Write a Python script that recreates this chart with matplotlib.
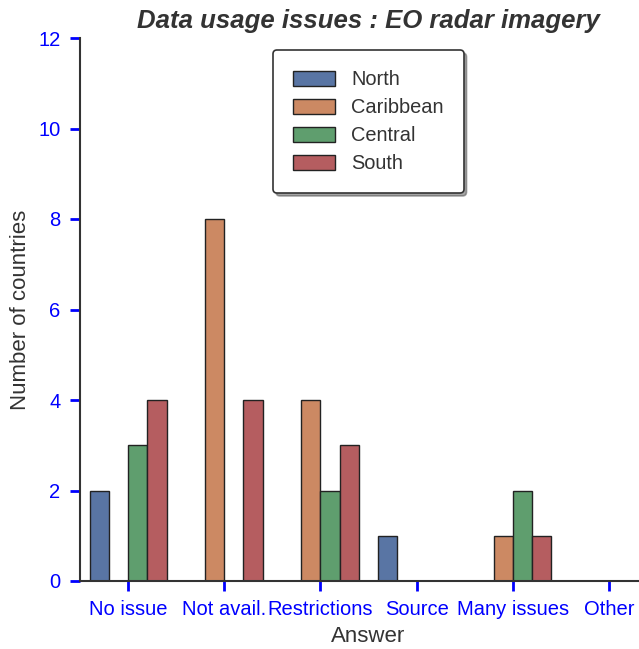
import numpy as np
import matplotlib
matplotlib.use("Agg")
import matplotlib.pyplot as plt
import seaborn as sns

# Answer categories and counts per region
categories = ["No issue", "Not avail.", "Restrictions", "Source", "Many issues", "Other"]
regions = ["North", "Caribbean", "Central", "South"]
north = [2, 0, 0, 1, 0, 0]
caribbean = [0, 8, 4, 0, 1, 0]
central = [3, 0, 2, 0, 2, 0]
south = [4, 4, 3, 0, 1, 0]
yticks = [0, 2, 4, 6, 8, 10, 12]

plt.rcParams["font.family"] = ["Liberation Sans", "DejaVu Sans"]
# seaborn barplot look: deep palette at 0.75 saturation
colors = [sns.desaturate(c, 0.75) for c in sns.color_palette("deep", 4)]

fig = plt.figure(figsize=(6.39, 6.49), dpi=100)
ax = fig.add_axes([80 / 639, 68 / 649, 577 / 639, 543 / 649])

x = np.arange(len(categories))
width = 0.2
for i, (name, vals) in enumerate(zip(regions, [north, caribbean, central, south])):
    ax.bar(x + (i - 1.5) * width, vals, width, color=colors[i], edgecolor="#222222",
           linewidth=1.0, label=name)

ax.set_xlim(-0.5, 5.5)
ax.set_ylim(0, 12)
ax.set_yticks(yticks)
ax.set_xticks(x)
ax.set_xticklabels(categories)

for side in ["top", "right"]:
    ax.spines[side].set_visible(False)
for side in ["left", "bottom"]:
    ax.spines[side].set_color("#333333")
    ax.spines[side].set_linewidth(1.5)

ax.tick_params(axis="both", colors="blue", labelsize=14.5, length=7, width=2, pad=7)

ax.set_xlabel("Answer", fontsize=16, color="#333333", labelpad=5)
ax.set_ylabel("Number of countries", fontsize=16, color="#333333", labelpad=5)
ax.set_title("Data usage issues : EO radar imagery", fontsize=18.5, fontweight="bold",
             fontstyle="italic", color="#333333", pad=7)

leg = ax.legend(loc="upper center", bbox_to_anchor=(0.5, 0.996), fontsize=14.4, shadow=True,
                frameon=True, fancybox=True, borderpad=1.0, labelspacing=0.45,
                handlelength=2.1, handleheight=0.75, handletextpad=0.8, borderaxespad=0.5)
leg.get_frame().set_edgecolor("#333333")
leg.get_frame().set_linewidth(1.2)
for t in leg.get_texts():
    t.set_color("#333333")

fig.savefig("out.png", dpi=100)
